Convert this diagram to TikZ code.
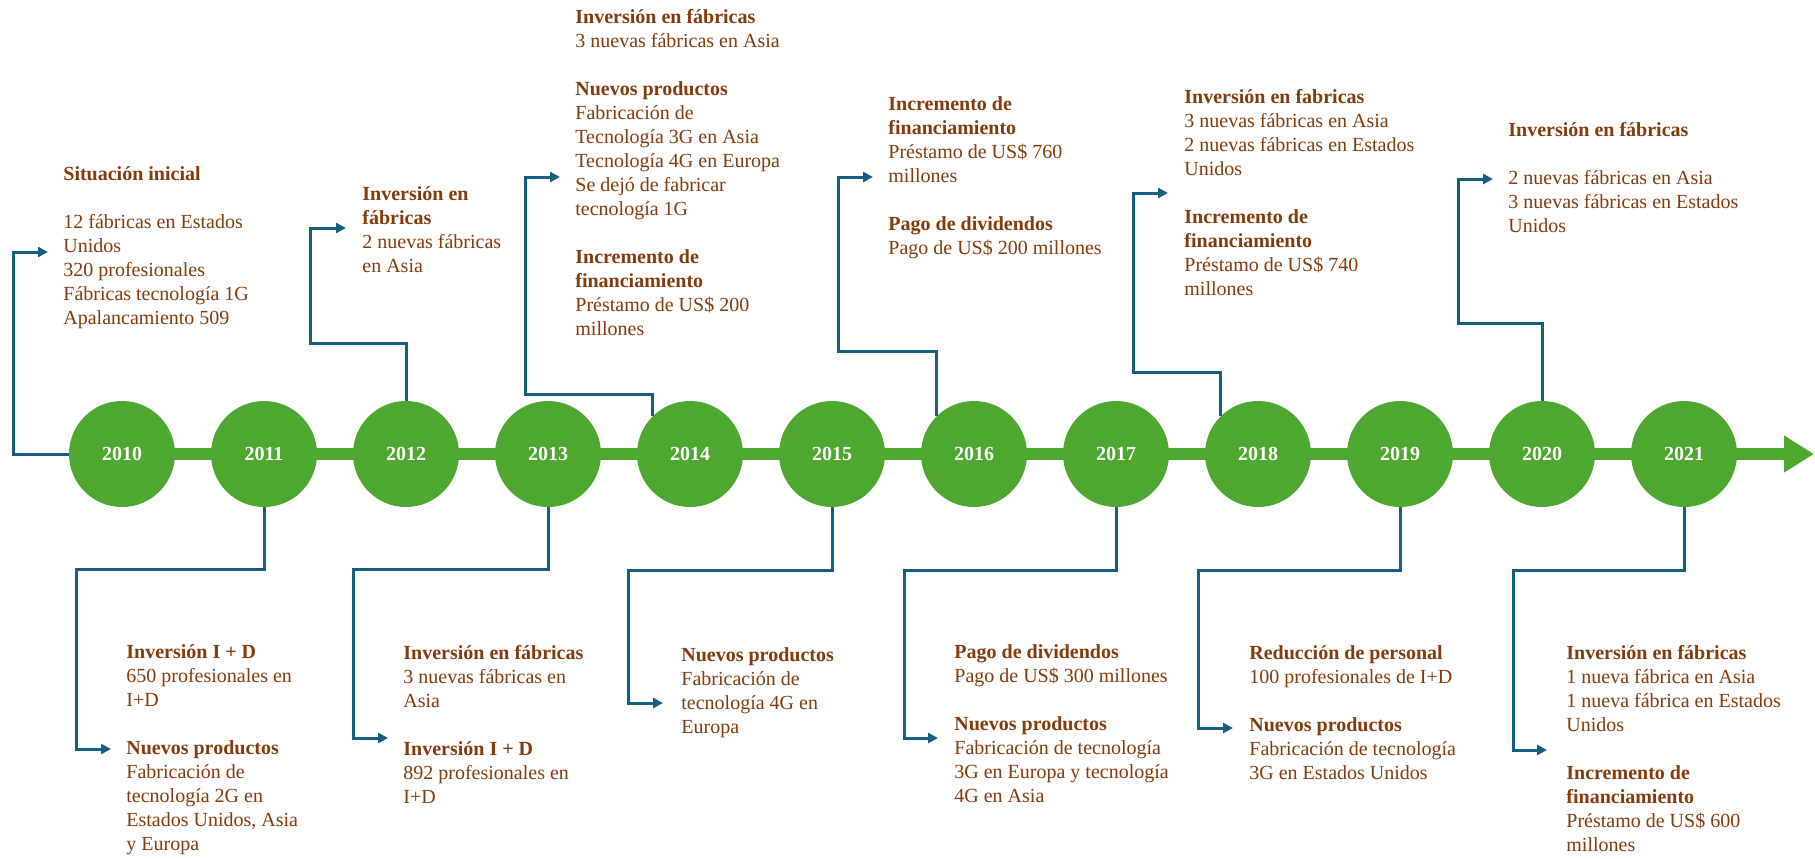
\documentclass[tikz,border=0pt]{standalone}
\usepackage{fontspec}
\setmainfont{Liberation Serif}
\usepackage{tikz}
\usetikzlibrary{arrows.meta}

\definecolor{tlgreen}{HTML}{4EA72E}
\definecolor{linkblue}{HTML}{156082}
\definecolor{txtbrown}{HTML}{843C0C}

\tikzset{
    yearnode/.style={circle, fill=tlgreen, minimum size=53pt, inner sep=0pt, text=white, font=\fontsize{10}{12}\selectfont\bfseries},
    infotext/.style={anchor=north west, inner sep=0pt, align=left, text=txtbrown, font=\fontsize{10}{12}\selectfont},
    conn/.style={draw=linkblue, line width=1.5pt, -{Triangle[length=5pt, width=5pt]}},
}

\begin{document}
\begin{tikzpicture}[x=0.5pt, y=-0.5pt]
    \useasboundingbox (0,0) rectangle (1815,858);

    % Timeline
    \coordinate (tlstart) at (122,454);
    \coordinate (tlend) at (1814,454);
    \draw[tlgreen, line width=6pt, -{Triangle[length=15pt, width=17.5pt]}] (tlstart) -- (tlend);

    % Years
    \node[yearnode] (c2010) at (122,454) {2010};
    \node[yearnode] (c2011) at (264,454) {2011};
    \node[yearnode] (c2012) at (406,454) {2012};
    \node[yearnode] (c2013) at (548,454) {2013};
    \node[yearnode] (c2014) at (690,454) {2014};
    \node[yearnode] (c2015) at (832,454) {2015};
    \node[yearnode] (c2016) at (974,454) {2016};
    \node[yearnode] (c2017) at (1116,454) {2017};
    \node[yearnode] (c2018) at (1258,454) {2018};
    \node[yearnode] (c2019) at (1400,454) {2019};
    \node[yearnode] (c2020) at (1542,454) {2020};
    \node[yearnode] (c2021) at (1684,454) {2021};

    % Texts above the timeline
    \node[infotext] (t2010) at (63,166) {\textbf{Situación inicial}\\[12pt]
        12 fábricas en Estados\\ Unidos\\ 320 profesionales\\ Fábricas tecnología 1G\\ Apalancamiento 509};
    \node[infotext] (t2012) at (362,186) {\textbf{Inversión en}\\ \textbf{fábricas}\\ 2 nuevas fábricas\\ en Asia};
    \node[infotext] (t2014) at (575,9) {\textbf{Inversión en fábricas}\\ 3 nuevas fábricas en Asia\\[12pt]
        \textbf{Nuevos productos}\\ Fabricación de\\ Tecnología 3G en Asia\\ Tecnología 4G en Europa\\ Se dejó de fabricar\\ tecnología 1G\\[12pt]
        \textbf{Incremento de}\\ \textbf{financiamiento}\\ Préstamo de US\$ 200\\ millones};
    \node[infotext] (t2016) at (888,96) {\textbf{Incremento de}\\ \textbf{financiamiento}\\ Préstamo de US\$ 760\\ millones\\[12pt]
        \textbf{Pago de dividendos}\\ Pago de US\$ 200 millones};
    \node[infotext] (t2018) at (1184,89) {\textbf{Inversión en fabricas}\\ 3 nuevas fábricas en Asia\\ 2 nuevas fábricas en Estados\\ Unidos\\[12pt]
        \textbf{Incremento de}\\ \textbf{financiamiento}\\ Préstamo de US\$ 740\\ millones};
    \node[infotext] (t2020) at (1508,122) {\textbf{Inversión en fábricas}\\[12pt]
        2 nuevas fábricas en Asia\\ 3 nuevas fábricas en Estados\\ Unidos};

    % Texts below the timeline
    \node[infotext] (t2011) at (126,644) {\textbf{Inversión I + D}\\ 650 profesionales en\\ I+D\\[12pt]
        \textbf{Nuevos productos}\\ Fabricación de\\ tecnología 2G en\\ Estados Unidos, Asia\\ y Europa};
    \node[infotext] (t2013) at (403,645) {\textbf{Inversión en fábricas}\\ 3 nuevas fábricas en\\ Asia\\[12pt]
        \textbf{Inversión I + D}\\ 892 profesionales en\\ I+D};
    \node[infotext] (t2015) at (681,647) {\textbf{Nuevos productos}\\ Fabricación de\\ tecnología 4G en\\ Europa};
    \node[infotext] (t2017) at (954,644) {\textbf{Pago de dividendos}\\ Pago de US\$ 300 millones\\[12pt]
        \textbf{Nuevos productos}\\ Fabricación de tecnología\\ 3G en Europa y tecnología\\ 4G en Asia};
    \node[infotext] (t2019) at (1249,645) {\textbf{Reducción de personal}\\ 100 profesionales de I+D\\[12pt]
        \textbf{Nuevos productos}\\ Fabricación de tecnología\\ 3G en Estados Unidos};
    \node[infotext] (t2021) at (1566,645) {\textbf{Inversión en fábricas}\\ 1 nueva fábrica en Asia\\ 1 nueva fábrica en Estados\\ Unidos\\[12pt]
        \textbf{Incremento de}\\ \textbf{financiamiento}\\ Préstamo de US\$ 600\\ millones};

    % Arrow ends
    \coordinate (a2010) at (48,252);
    \coordinate (a2012) at (346,228);
    \coordinate (a2014) at (560,177);
    \coordinate (a2016) at (873,177);
    \coordinate (a2018) at (1168,193);
    \coordinate (a2020) at (1493,179);
    \coordinate (a2011) at (111,749);
    \coordinate (a2013) at (388,738);
    \coordinate (a2015) at (663,703);
    \coordinate (a2017) at (938,738);
    \coordinate (a2019) at (1233,728);
    \coordinate (a2021) at (1547,750);

    % Connectors
    \draw[conn] (c2010.west) -| (13,252) -- (a2010);
    \draw[conn] (c2012.north) |- (310,343) |- (a2012);
    \draw[conn] (c2014.north west) |- (525,394) |- (a2014);
    \draw[conn] (c2016.north west) |- (838,351) |- (a2016);
    \draw[conn] (c2018.north west) |- (1133,372) |- (a2018);
    \draw[conn] (c2020.north) |- (1458,323) |- (a2020);
    \draw[conn] (c2011.south) |- (76,569) |- (a2011);
    \draw[conn] (c2013.south) |- (353,569) |- (a2013);
    \draw[conn] (c2015.south) |- (628,570) |- (a2015);
    \draw[conn] (c2017.south) |- (904,570) |- (a2017);
    \draw[conn] (c2019.south) |- (1198,570) |- (a2019);
    \draw[conn] (c2021.south) |- (1513,570) |- (a2021);
\end{tikzpicture}
\end{document}
